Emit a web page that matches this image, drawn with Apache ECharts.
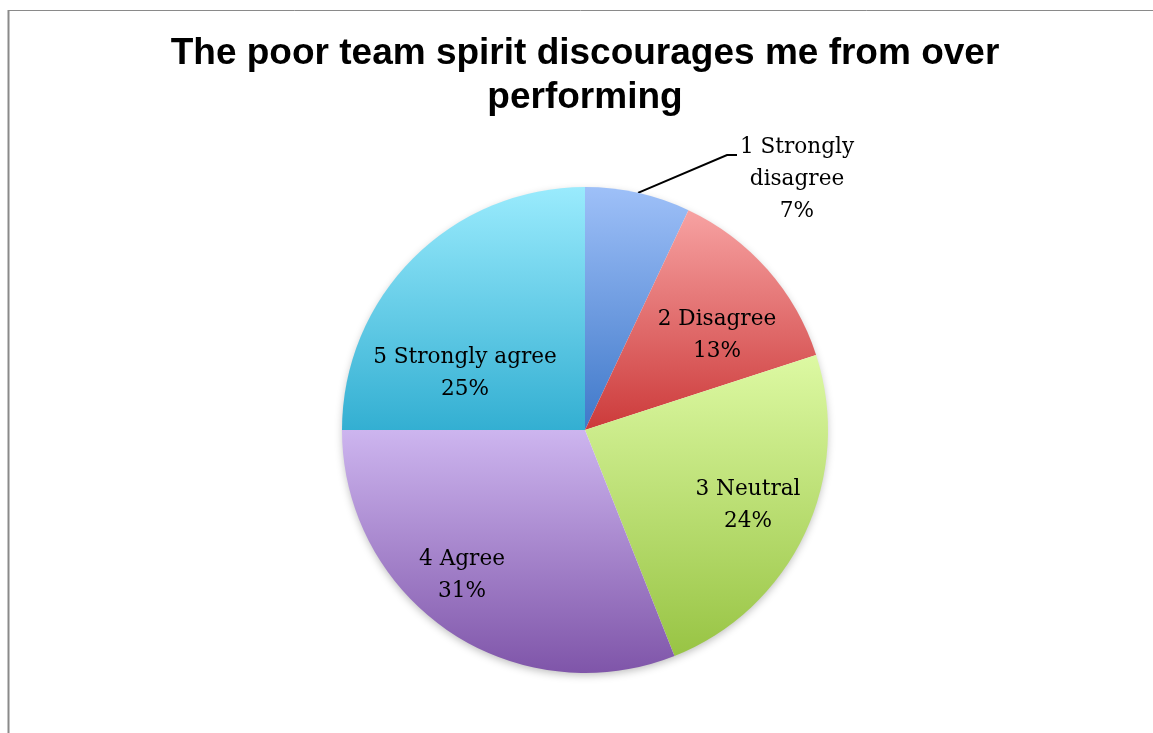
<!DOCTYPE html>
<html>
<head>
<meta charset="utf-8">
<title>Team spirit survey</title>
<script src="https://cdn.jsdelivr.net/npm/echarts@6/dist/echarts.min.js"></script>
<style>
  html, body { margin: 0; padding: 0; background: #ffffff; }
  #chart { width: 1153px; height: 733px; }
</style>
</head>
<body>
<div id="chart"></div>
<script>
// Survey answers and their share of respondents (%)
const categories = ['1 Strongly\ndisagree', '2 Disagree', '3 Neutral', '4 Agree', '5 Strongly agree'];
const shares = [7, 13, 24, 31, 25];

// Vertical gradient per slice: [top colour, bottom colour]
const sliceColors = [
  ['#9ec0f8', '#3f78c9'],
  ['#f7a2a2', '#cc3a3a'],
  ['#ddf9a3', '#98c444'],
  ['#cdb5ef', '#7f55a9'],
  ['#9aebfd', '#33afd2']
];

// Pie geometry (pixels)
const CX = 585, CY = 430, R = 243;
// Where each label block sits, relative to the pie centre
const labelOffsets = [[212, -251], [132, -95], [163, 75], [-123, 145], [-120, -57]];
// Leader line of the first (outside) label: elbow and end, relative to centre
const leaderElbow = [142, -275], leaderEnd = [152, -275];

const chart = echarts.init(document.getElementById('chart'), null, { renderer: 'canvas' });

const data = categories.map((name, i) => ({
  name: name,
  value: shares[i],
  itemStyle: {
    color: new echarts.graphic.LinearGradient(0, 0, 0, 1, [
      { offset: 0, color: sliceColors[i][0] },
      { offset: 1, color: sliceColors[i][1] }
    ])
  },
  label: i === 0 ? { position: 'outside' } : { position: 'inside' },
  labelLine: { show: i === 0 }
}));

// Mid angle of the first slice (clockwise from 12 o'clock)
const total = shares.reduce((a, b) => a + b, 0);
const firstMid = (shares[0] / total) * Math.PI;

chart.setOption({
  backgroundColor: '#ffffff',
  animation: false,
  title: {
    text: 'The poor team spirit discourages me from over\nperforming',
    left: 580,
    top: 27,
    textAlign: 'center',
    textStyle: {
      fontFamily: 'Liberation Sans, Arial, sans-serif',
      fontWeight: 'bold',
      fontSize: 37,
      lineHeight: 44,
      color: '#000000'
    }
  },
  graphic: [
    { type: 'line', shape: { x1: 8, y1: 10.5, x2: 1153, y2: 10.5 }, style: { stroke: '#8a8a8a', lineWidth: 1 }, silent: true },
    { type: 'line', shape: { x1: 8.5, y1: 10, x2: 8.5, y2: 733 }, style: { stroke: '#8a8a8a', lineWidth: 2 }, silent: true },
    { type: 'circle', shape: { cx: CX, cy: CY, r: R - 1 }, z: -1,
      style: { fill: '#ffffff', shadowBlur: 8, shadowColor: 'rgba(0,0,0,0.28)', shadowOffsetY: 3 }, silent: true }
  ],
  series: [{
    type: 'pie',
    center: [CX, CY],
    radius: R,
    startAngle: 90,
    clockwise: true,
    avoidLabelOverlap: false,
    silent: true,
    data: data,
    label: {
      show: true,
      formatter: p => p.name + '\n' + p.value + '%',
      fontFamily: 'DejaVu Serif, serif',
      fontSize: 21.6,
      lineHeight: 32,
      color: '#000000',
      align: 'center'
    },
    labelLine: {
      lineStyle: { color: '#000000', width: 2 }
    },
    labelLayout: function (p) {
      const off = labelOffsets[p.dataIndex];
      const out = {
        x: CX + off[0],
        y: CY + off[1],
        align: 'center',
        verticalAlign: 'middle'
      };
      if (p.dataIndex === 0) {
        out.labelLinePoints = [
          [CX + R * Math.sin(firstMid), CY - R * Math.cos(firstMid)],
          [CX + leaderElbow[0], CY + leaderElbow[1]],
          [CX + leaderEnd[0], CY + leaderEnd[1]]
        ];
      }
      return out;
    }
  }]
});
</script>
</body>
</html>
